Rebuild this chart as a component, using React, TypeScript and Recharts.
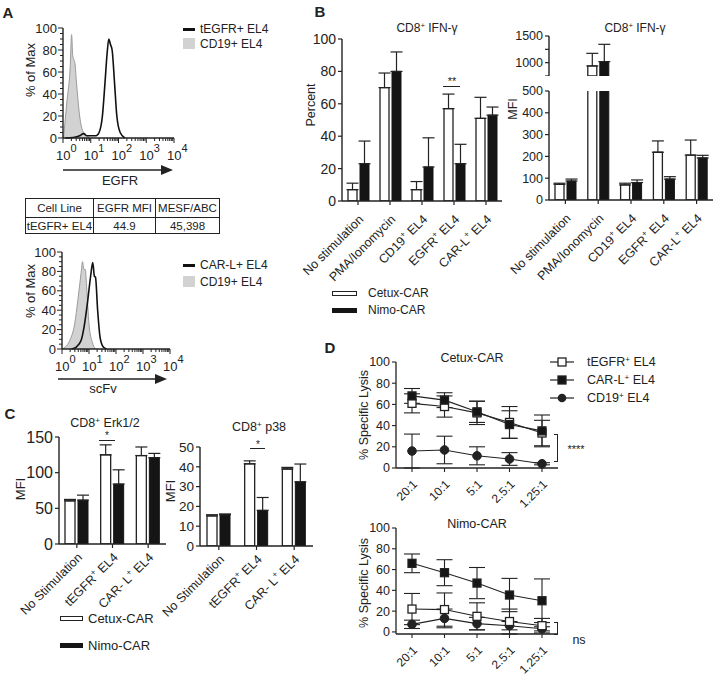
import React from 'react';
import { ComposedChart, BarChart, LineChart, Bar, Line, Area, XAxis, YAxis, ErrorBar } from 'recharts';

const INK = '#222';
const FONT = '"Liberation Sans", Arial, Helvetica, sans-serif';

// ---- A: flow histograms (x in decades, y in % of max) ----
const histDecades = [0, 1, 2, 3, 4];
const egfrTEGFR: [number, number][] = [
  [0.08, 0], [0.37, 0.5], [0.6, 2], [0.74, 4], [0.86, 2], [1.19, 2], [1.3, 5], [1.42, 20],
  [1.51, 49], [1.59, 77], [1.65, 90], [1.71, 85], [1.77, 80], [1.86, 49], [1.94, 20], [2.06, 5], [2.23, 0],
];
const egfrCD19: [number, number][] = [
  [0.02, 0], [0.14, 33], [0.26, 65], [0.31, 94], [0.35, 75], [0.43, 68], [0.49, 49], [0.6, 20],
  [0.72, 6], [0.84, 3], [0.95, 0],
];
const scfvCARL: [number, number][] = [
  [0.35, 0], [0.53, 2], [0.71, 9], [0.82, 23], [0.94, 47], [1.06, 75], [1.14, 89], [1.2, 75],
  [1.24, 74], [1.32, 40], [1.41, 12], [1.53, 2], [1.65, 0],
];
const scfvCD19: [number, number][] = [
  [0, 0], [0.12, 2], [0.29, 9], [0.47, 26], [0.59, 51], [0.71, 79], [0.76, 90], [0.81, 82],
  [0.86, 82], [0.92, 61], [1.0, 26], [1.12, 7], [1.24, 0],
];

// ---- B: IFN-gamma ----
const ifnCategories = ['No stimulation', 'PMA/Ionomycin', 'CD19+ EL4', 'EGFR+ EL4', 'CAR-L+ EL4'];
const ifnPctCetux = [7, 70, 7, 57, 51];
const ifnPctCetuxErr = [4, 9, 5, 9, 13];
const ifnPctNimo = [23, 80, 21, 23, 53];
const ifnPctNimoErr = [14, 12, 18, 12, 5];
const ifnMfiCetux = [72, 938, 69, 219, 206];
const ifnMfiCetuxErr = [5, 237, 8, 52, 69];
const ifnMfiNimo = [87, 1019, 80, 96, 193];
const ifnMfiNimoErr = [9, 325, 12, 11, 12];

// ---- C: phospho flow ----
const phosphoCategories = ['No Stimulation', 'tEGFR+ EL4', 'CAR- L+ EL4'];
const erkCetux = [60.5, 125, 124];
const erkCetuxErr = [2, 14, 12];
const erkNimo = [61.5, 84, 121];
const erkNimoErr = [7, 20, 6];
const p38Cetux = [15.2, 41.5, 38.9];
const p38CetuxErr = [0.6, 1.5, 0.8];
const p38Nimo = [15.8, 18, 32.4];
const p38NimoErr = [0.4, 6.5, 9];

// ---- D: specific lysis ----
const ratioLabels = ['20:1', '10:1', '5:1', '2.5:1', '1.25:1'];
const cetuxTEGFR = [61, 58, 52, 43, 33];
const cetuxTEGFRErr = [9, 10, 11, 15, 12];
const cetuxCARL = [68, 64, 53, 41, 35];
const cetuxCARLErr = [7, 7, 10, 13, 15];
const cetuxCD19 = [16, 17, 11.5, 8.5, 4];
const cetuxCD19Err = [16, 13, 8.5, 6, 1];
const nimoTEGFR = [22, 21.5, 15, 10, 6];
const nimoTEGFRErr = [15, 16, 13, 12, 7];
const nimoCARL = [66, 57, 47, 35.5, 30];
const nimoCARLErr = [9, 12.5, 15, 16, 21];
const nimoCD19 = [7.3, 13, 8, 6, 3];
const nimoCD19Err = [4, 9, 6, 4, 2];

// ---------- helpers ----------
function mergeHist(black: [number, number][], gray: [number, number][]) {
  const rows: { x: number; black?: number; gray?: number }[] = [];
  black.forEach(([x, y]) => rows.push({ x, black: y }));
  gray.forEach(([x, y]) => rows.push({ x, gray: y }));
  return rows.sort((a, b) => a.x - b.x);
}

const histXTicks: number[] = [];
histDecades.forEach((d) => {
  histXTicks.push(d);
  if (d < 4) for (let k = 2; k <= 9; k++) histXTicks.push(d + Math.log10(k));
});
const histYTicks = Array.from({ length: 21 }, (_, i) => i * 5);

function HistXTick(props: any) {
  const { x, y, payload } = props;
  const v = payload.value as number;
  const major = Math.abs(v - Math.round(v)) < 1e-6;
  return (
    <g>
      <line x1={x} x2={x} y1={y} y2={y + (major ? 5 : 3)} stroke={INK} strokeWidth={1} />
      {major && (
        <text x={x - 7} y={y + 22} fontSize={13} fill={INK}>
          10<tspan dy={-8} fontSize={11}>{Math.round(v)}</tspan>
        </text>
      )}
    </g>
  );
}

function HistYTick(props: any) {
  const { x, y, payload } = props;
  const v = payload.value as number;
  const major = v % 20 === 0;
  return (
    <g>
      <line x1={x} x2={x - (major ? 5 : 3)} y1={y} y2={y} stroke={INK} strokeWidth={1} />
      {major && (
        <text x={x - 6} y={y + 4.5} fontSize={13} fill={INK} textAnchor="end">
          {v}
        </text>
      )}
    </g>
  );
}

function Histogram({ left, top, width, height, marginTop, yWidth, rows }: any) {
  return (
    <div style={{ position: 'absolute', left, top }}>
      <ComposedChart width={width} height={height} data={rows} margin={{ top: marginTop, right: 14, bottom: 0, left: 0 }}>
        <XAxis xAxisId="b" type="number" dataKey="x" domain={[0, 4]} ticks={histXTicks} interval={0} tick={HistXTick}
          tickLine={false} tickSize={0} tickMargin={0} height={30} axisLine={{ stroke: INK, strokeWidth: 1.4 }} />
        <XAxis xAxisId="t" orientation="top" type="number" dataKey="x" domain={[0, 4]} tick={false} tickLine={false}
          height={0} axisLine={{ stroke: INK, strokeWidth: 1.2 }} />
        <YAxis yAxisId="l" type="number" domain={[0, 100]} ticks={histYTicks} interval={0} tick={HistYTick}
          tickLine={false} tickSize={0} tickMargin={0} width={yWidth} axisLine={{ stroke: INK, strokeWidth: 1.4 }} />
        <YAxis yAxisId="r" orientation="right" type="number" domain={[0, 100]} tick={false} tickLine={false}
          width={0} axisLine={{ stroke: INK, strokeWidth: 1.2 }} />
        <Area xAxisId="b" yAxisId="l" type="monotone" dataKey="gray" connectNulls fill="#d2d2d2" fillOpacity={1}
          stroke="#9a9a9a" strokeWidth={1} dot={false} activeDot={false} isAnimationActive={false} />
        <Line xAxisId="b" yAxisId="l" type="monotone" dataKey="black" connectNulls stroke="#111" strokeWidth={1.6}
          dot={false} activeDot={false} isAnimationActive={false} />
      </ComposedChart>
    </div>
  );
}

function svgSup(text: string, fs: number) {
  const i = text.indexOf('+');
  if (i < 0) return text;
  return [
    text.slice(0, i),
    <tspan key="s" dy={-fs * 0.4} fontSize={fs * 0.7}>+</tspan>,
    <tspan key="r" dy={fs * 0.4}>{text.slice(i + 1)}</tspan>,
  ];
}

const catTick = (fs: number, dx = 3, dy = 3) => (props: any) => {
  const { x, y, payload } = props;
  return (
    <g transform={`translate(${x + dx},${y + dy}) rotate(-45)`}>
      <text textAnchor="end" fontSize={fs} fill={INK} dy={fs * 0.35}>
        {svgSup(String(payload.value), fs)}
      </text>
    </g>
  );
};

function pairRows(cats: string[], a: number[], aErr: number[], b: number[], bErr: number[], keep = (v: number) => true) {
  return cats.map((name, i) => ({
    name,
    cetux: keep(a[i]) ? a[i] : null,
    nimo: keep(b[i]) ? b[i] : null,
    cetuxErr: keep(a[i]) ? [0, aErr[i]] : undefined,
    nimoErr: keep(b[i]) ? [0, bErr[i]] : undefined,
  }));
}

function PairBars({ left, top, width, height, yWidth, data, domain, ticks, tickFs, catFs, catDy = 3, barSize, hideX, fmt, xHeight = 90 }: any) {
  return (
    <div style={{ position: 'absolute', left, top }}>
      <BarChart width={width} height={height} data={data} margin={{ top: 10, right: 3, bottom: 0, left: 0 }}
        barSize={barSize} barGap={3}>
        <XAxis dataKey="name" hide={hideX} interval={0} tickSize={4} height={xHeight}
          axisLine={{ stroke: INK, strokeWidth: 1.4 }} tickLine={{ stroke: INK, strokeWidth: 1.2 }} tick={catTick(catFs, 3, catDy)} />
        <YAxis type="number" domain={domain} ticks={ticks} interval={0} width={yWidth} allowDataOverflow tickSize={4}
          tickMargin={2} axisLine={{ stroke: INK, strokeWidth: 1.4 }} tickLine={{ stroke: INK, strokeWidth: 1.2 }}
          tick={{ fontSize: tickFs, fill: INK }} tickFormatter={fmt} />
        <Bar dataKey="cetux" fill="#fff" stroke={INK} strokeWidth={1.3} isAnimationActive={false}>
          <ErrorBar dataKey="cetuxErr" direction="y" width={6} stroke={INK} strokeWidth={1.2} />
        </Bar>
        <Bar dataKey="nimo" fill="#151515" stroke="#151515" strokeWidth={1} isAnimationActive={false}>
          <ErrorBar dataKey="nimoErr" direction="y" width={6} stroke={INK} strokeWidth={1.2} />
        </Bar>
      </BarChart>
    </div>
  );
}

const squareDot = (fill: string) => (p: any) => (
  <rect key={`sq${p.index}`} x={p.cx - 4} y={p.cy - 4} width={8} height={8} fill={fill} stroke={INK} strokeWidth={1.3} />
);
const circleDot = (p: any) => <circle key={`c${p.index}`} cx={p.cx} cy={p.cy} r={4.3} fill={INK} stroke={INK} />;

function lysisRows(t: number[], tE: number[], c: number[], cE: number[], d: number[], dE: number[]) {
  return ratioLabels.map((ratio, i) => ({
    ratio, tegfr: t[i], tegfrErr: tE[i], carl: c[i], carlErr: cE[i], cd19: d[i], cd19Err: dE[i],
  }));
}

function Lysis({ left, top, data }: any) {
  const err = (k: string) => <ErrorBar dataKey={k} direction="y" width={8} stroke={INK} strokeWidth={1.1} />;
  return (
    <div style={{ position: 'absolute', left, top }}>
      <LineChart width={200} height={166} data={data} margin={{ top: 10, right: 2, bottom: 0, left: 0 }}>
        <XAxis dataKey="ratio" interval={0} padding={{ left: 16, right: 16 }} tickSize={4} height={50}
          axisLine={{ stroke: INK, strokeWidth: 1.3 }} tickLine={{ stroke: INK, strokeWidth: 1.1 }} tick={catTick(12, 3, 8)} />
        <YAxis type="number" domain={[0, 100]} ticks={[0, 20, 40, 60, 80, 100]} interval={0} width={36} tickSize={4}
          tickMargin={2} axisLine={{ stroke: INK, strokeWidth: 1.3 }} tickLine={{ stroke: INK, strokeWidth: 1.1 }}
          tick={{ fontSize: 12.5, fill: INK }} />
        <Line dataKey="cd19" stroke={INK} strokeWidth={1.1} dot={circleDot} activeDot={false} isAnimationActive={false}>
          {err('cd19Err')}
        </Line>
        <Line dataKey="tegfr" stroke={INK} strokeWidth={1.1} dot={squareDot('#fff')} activeDot={false} isAnimationActive={false}>
          {err('tegfrErr')}
        </Line>
        <Line dataKey="carl" stroke={INK} strokeWidth={1.1} dot={squareDot('#151515')} activeDot={false} isAnimationActive={false}>
          {err('carlErr')}
        </Line>
      </LineChart>
    </div>
  );
}

function Txt({ x, y, children, size = 12, rotate = 0, bold = false, anchor = 'middle' }: any) {
  const tx = anchor === 'middle' ? '-50%' : anchor === 'end' ? '-100%' : '0';
  return (
    <div style={{
      position: 'absolute', left: x, top: y, transform: `translate(${tx}, -50%) rotate(${rotate}deg)`,
      fontSize: size, fontWeight: bold ? 700 : 400, whiteSpace: 'nowrap', lineHeight: 1, color: INK,
    }}>{children}</div>
  );
}

const Sup = ({ c = '+' }: any) => <span style={{ fontSize: '0.65em', position: 'relative', top: '-0.5em' }}>{c}</span>;

function Box({ x, y, w, h, bg = 'transparent', border }: any) {
  return <div style={{ position: 'absolute', left: x, top: y, width: w, height: h, background: bg, border, boxSizing: 'border-box' }} />;
}

function Arrow({ x1, x2, y }: any) {
  return (
    <svg style={{ position: 'absolute', left: x1, top: y - 6 }} width={x2 - x1 + 2} height={12}>
      <line x1={0} x2={x2 - x1 - 8} y1={6} y2={6} stroke={INK} strokeWidth={1.6} />
      <polygon points={`${x2 - x1 - 12},1 ${x2 - x1},6 ${x2 - x1 - 12},11`} fill={INK} />
    </svg>
  );
}

function Bracket({ x, y1, y2 }: any) {
  return <div style={{ position: 'absolute', left: x - 3, top: y1, width: 3, height: y2 - y1, borderTop: `1.2px solid ${INK}`, borderRight: `1.4px solid ${INK}`, borderBottom: `1.2px solid ${INK}` }} />;
}

function LegendSym({ x, y, kind }: any) {
  return (
    <svg style={{ position: 'absolute', left: x, top: y - 6 }} width={24} height={12}>
      <line x1={0} x2={24} y1={6} y2={6} stroke={INK} strokeWidth={1.2} />
      {kind === 'circle' ? <circle cx={12} cy={6} r={4.3} fill={INK} /> :
        <rect x={8} y={2} width={8} height={8} fill={kind === 'open' ? '#fff' : '#151515'} stroke={INK} strokeWidth={1.3} />}
    </svg>
  );
}

export default function App() {
  const egfrRows = mergeHist(egfrTEGFR, egfrCD19);
  const scfvRows = mergeHist(scfvCARL, scfvCD19);
  const pctRows = pairRows(ifnCategories, ifnPctCetux, ifnPctCetuxErr, ifnPctNimo, ifnPctNimoErr);
  const mfiLow = pairRows(ifnCategories, ifnMfiCetux, ifnMfiCetuxErr, ifnMfiNimo, ifnMfiNimoErr).map((r, i) => ({
    ...r,
    cetuxErr: ifnMfiCetux[i] > 500 ? undefined : r.cetuxErr,
    nimoErr: ifnMfiNimo[i] > 500 ? undefined : r.nimoErr,
  }));
  const mfiHigh = pairRows(ifnCategories, ifnMfiCetux, ifnMfiCetuxErr, ifnMfiNimo, ifnMfiNimoErr, (v) => v > 500);
  const erkRows = pairRows(phosphoCategories, erkCetux, erkCetuxErr, erkNimo, erkNimoErr);
  const p38Rows = pairRows(phosphoCategories, p38Cetux, p38CetuxErr, p38Nimo, p38NimoErr);
  const cetuxLysis = lysisRows(cetuxTEGFR, cetuxTEGFRErr, cetuxCARL, cetuxCARLErr, cetuxCD19, cetuxCD19Err);
  const nimoLysis = lysisRows(nimoTEGFR, nimoTEGFRErr, nimoCARL, nimoCARLErr, nimoCD19, nimoCD19Err);
  const td: React.CSSProperties = { border: `1px solid ${INK}`, padding: 0, textAlign: 'center', fontSize: 11.5 };

  return (
    <div style={{ position: 'absolute', left: 0, top: 0, width: 718, height: 676, background: '#fff', fontFamily: FONT, color: INK, overflow: 'hidden' }}>
      {/* A */}
      <Histogram left={0} top={0} width={188} height={168} marginTop={28} yWidth={63} rows={egfrRows} />
      <Histogram left={0} top={240} width={184} height={139} marginTop={12} yWidth={62} rows={scfvRows} />
      <Arrow x1={63} x2={173} y={170} />
      <Arrow x1={58} x2={167} y={379} />
      <table style={{ position: 'absolute', left: 25, top: 198, width: 195, borderCollapse: 'collapse', tableLayout: 'fixed' }}>
        <tbody>
          <tr style={{ height: 19 }}>
            <td style={{ ...td, width: 67 }}>Cell Line</td>
            <td style={{ ...td, width: 61 }}>EGFR MFI</td>
            <td style={td}>MESF/ABC</td>
          </tr>
          <tr style={{ height: 16 }}>
            <td style={td}>tEGFR+ EL4</td>
            <td style={td}>44.9</td>
            <td style={td}>45,398</td>
          </tr>
        </tbody>
      </table>

      {/* B */}
      <PairBars left={300} top={29} width={205} height={262} yWidth={42} data={pctRows} domain={[0, 100]}
        ticks={[0, 20, 40, 60, 80, 100]} tickFs={14} catFs={12.5} catDy={10} barSize={9} />
      <PairBars left={499} top={81} width={217} height={209} yWidth={50} data={mfiLow} domain={[0, 500]}
        ticks={[0, 100, 200, 300, 400, 500]} tickFs={12.5} catFs={12.5} catDy={10} barSize={9} />
      <PairBars left={499} top={26} width={217} height={50} yWidth={50} data={mfiHigh} domain={[750, 1500]}
        ticks={[750, 1000, 1250, 1500]} tickFs={12.5} catFs={12} barSize={9} hideX xHeight={0}
        fmt={(v: number) => (v === 1000 || v === 1500 ? String(v) : '')} />

      {/* C */}
      <PairBars left={19} top={427} width={150} height={207} yWidth={40} data={erkRows} domain={[0, 150]}
        ticks={[0, 50, 100, 150]} tickFs={16} catFs={12.5} catDy={5} barSize={10} />
      <PairBars left={160} top={437} width={156} height={199} yWidth={40} data={p38Rows} domain={[0, 50]}
        ticks={[0, 10, 20, 30, 40, 50]} tickFs={13.5} catFs={12.5} catDy={5} barSize={10} />

      {/* D */}
      <Lysis left={360} top={352} data={cetuxLysis} />
      <Lysis left={360} top={518} data={nimoLysis} />

      {/* text layer */}
      <Txt x={8} y={12} size={15} bold>A</Txt>
      <Txt x={320} y={11} size={15} bold>B</Txt>
      <Txt x={10} y={413} size={15} bold>C</Txt>
      <Txt x={330} y={347} size={15} bold>D</Txt>

      <Txt x={30} y={70} size={13} rotate={-90}>% of Max</Txt>
      <Txt x={30} y={291} size={13} rotate={-90}>% of Max</Txt>
      <Txt x={120} y={180} size={13}>EGFR</Txt>
      <Txt x={103} y={388} size={13}>scFv</Txt>
      <Box x={183} y={27.5} w={12} h={3} bg="#111" />
      <Txt x={200} y={29} size={12} anchor="start">tEGFR+ EL4</Txt>
      <Box x={183} y={38} w={12} h={11} bg="#d2d2d2" />
      <Txt x={200} y={44} size={12} anchor="start">CD19+ EL4</Txt>
      <Box x={183} y={263.5} w={12} h={3} bg="#111" />
      <Txt x={200} y={265} size={12} anchor="start">CAR-L+ EL4</Txt>
      <Box x={183} y={276} w={12} h={11} bg="#d2d2d2" />
      <Txt x={200} y={282} size={12} anchor="start">CD19+ EL4</Txt>

      <Txt x={427} y={28} size={12}>CD8<Sup /> IFN-γ</Txt>
      <Txt x={635} y={28} size={12}>CD8<Sup /> IFN-γ</Txt>
      <Txt x={311} y={105} size={12.5} rotate={-90}>Percent</Txt>
      <Txt x={513} y={109} size={12.5} rotate={-90}>MFI</Txt>
      <Txt x={452} y={81} size={11}>**</Txt>
      <Box x={443} y={85.5} w={17} h={1} bg={INK} />
      <Box x={332} y={290.5} w={25} h={5} border={`1.2px solid ${INK}`} />
      <Txt x={368} y={293} size={12} anchor="start">Cetux-CAR</Txt>
      <Box x={332} y={307.5} w={25} h={5} bg="#151515" />
      <Txt x={368} y={310} size={12} anchor="start">Nimo-CAR</Txt>

      <Txt x={105} y={423} size={12.5}>CD8<Sup /> Erk1/2</Txt>
      <Txt x={259} y={427} size={12.5}>CD8<Sup /> p38</Txt>
      <Txt x={20} y={489} size={13} rotate={-90}>MFI</Txt>
      <Txt x={170} y={491} size={13} rotate={-90}>MFI</Txt>
      <Txt x={107} y={436} size={10}>*</Txt>
      <Box x={99} y={439.5} w={16} h={1} bg={INK} />
      <Txt x={258} y={444.5} size={10}>*</Txt>
      <Box x={250} y={448} w={15} h={1} bg={INK} />
      <Box x={60} y={616} w={23} h={5} border={`1.2px solid ${INK}`} />
      <Txt x={88} y={618} size={13} anchor="start">Cetux-CAR</Txt>
      <Box x={60} y={643} w={23} h={5} bg="#151515" />
      <Txt x={88} y={645} size={13} anchor="start">Nimo-CAR</Txt>

      <Txt x={472} y={358} size={12.5}>Cetux-CAR</Txt>
      <Txt x={477} y={524} size={12.5}>Nimo-CAR</Txt>
      <Txt x={364} y={415} size={12.5} rotate={-90}>% Specific Lysis</Txt>
      <Txt x={364} y={583} size={12.5} rotate={-90}>% Specific Lysis</Txt>
      <LegendSym x={550} y={362} kind="open" />
      <Txt x={587} y={362} size={12.5} anchor="start">tEGFR<Sup /> EL4</Txt>
      <LegendSym x={550} y={380} kind="filled" />
      <Txt x={587} y={380} size={12.5} anchor="start">CAR-L<Sup /> EL4</Txt>
      <LegendSym x={550} y={398} kind="circle" />
      <Txt x={587} y={398} size={12.5} anchor="start">CD19<Sup /> EL4</Txt>
      <Bracket x={557} y1={434} y2={460} />
      <Txt x={576} y={449} size={11}>****</Txt>
      <Bracket x={557} y1={622} y2={633} />
      <Txt x={579} y={640} size={12.5}>ns</Txt>
    </div>
  );
}
